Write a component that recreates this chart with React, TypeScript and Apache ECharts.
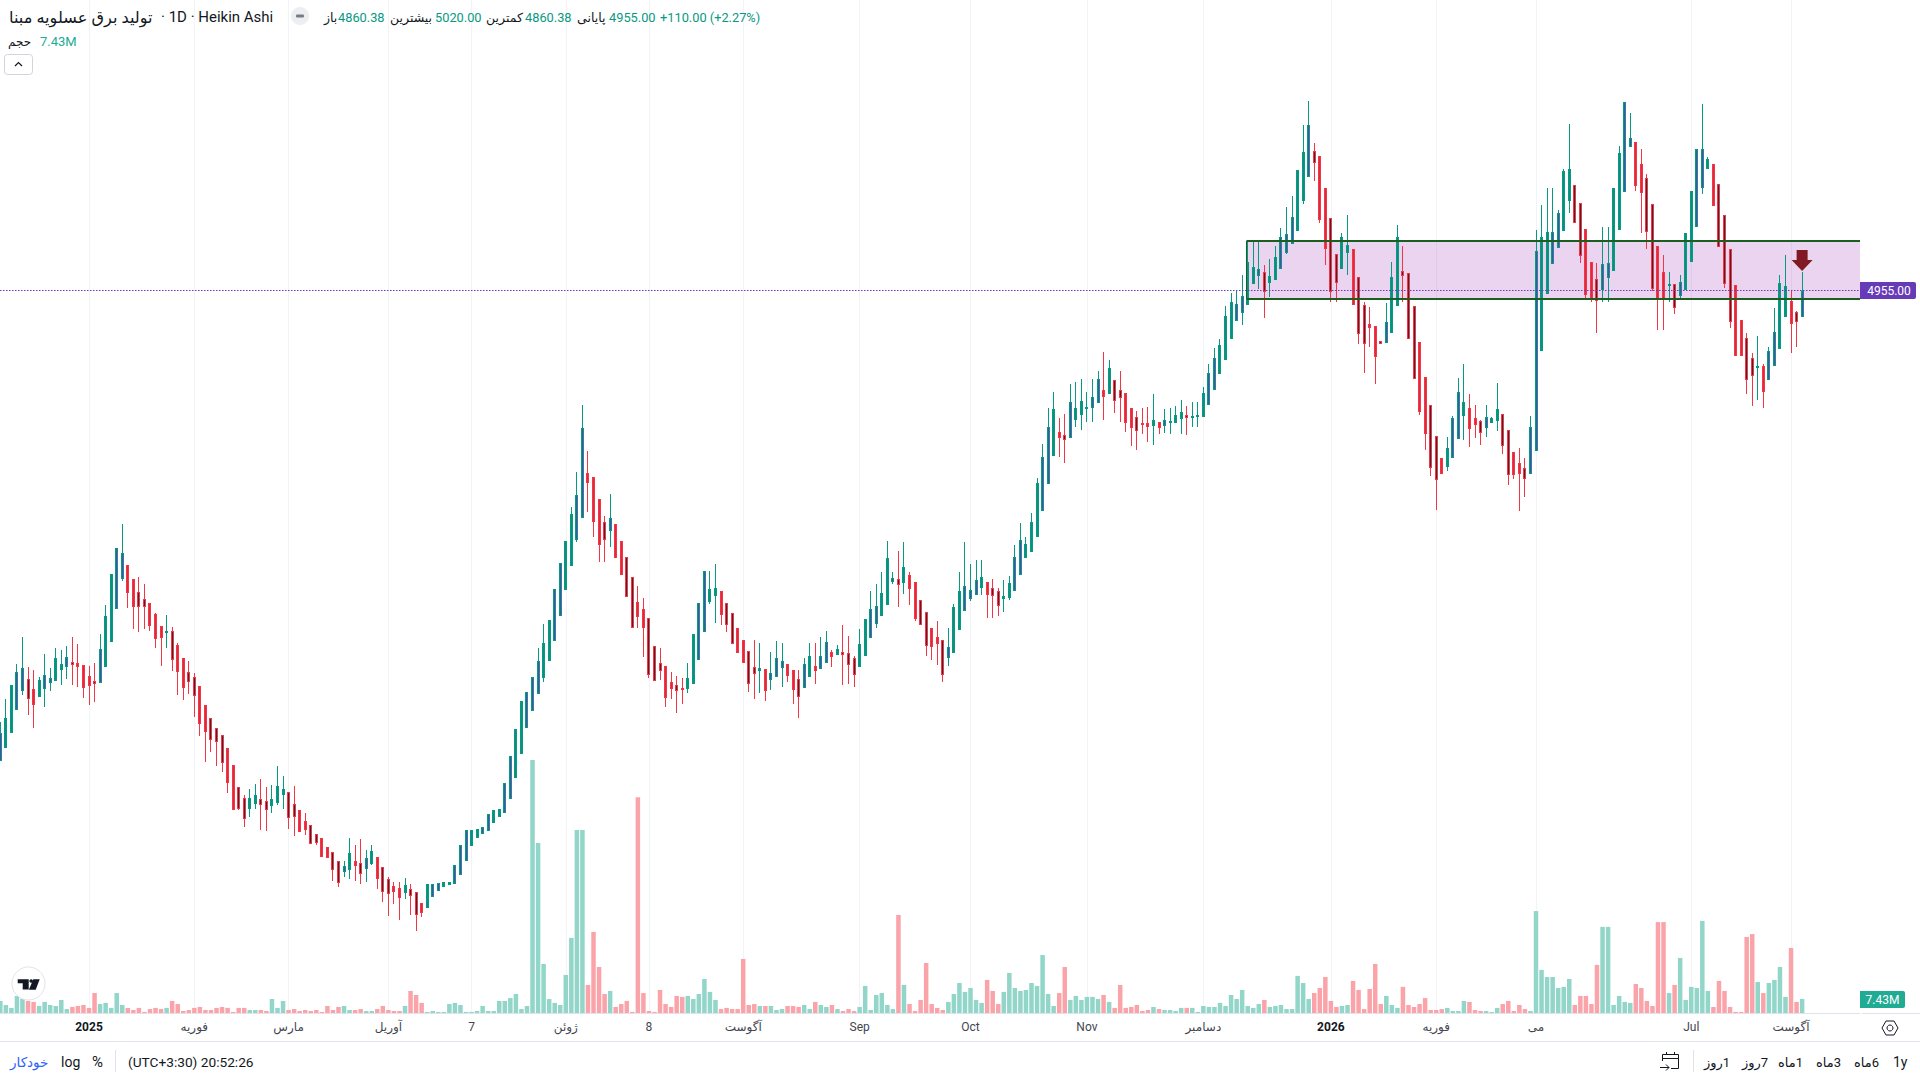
import React, { useEffect, useRef } from "react";
import * as echarts from "echarts";

const opens = [
3262,3309,3363,3446,3514,3556,3520,3493,3522,3543,
3550,3590,3601,3618,3614,3607,3567,3549,3543,3601,
3691,3810,3918,3967,3916,3870,3844,3830,3790,3747,
3727,3729,3679,3632,3582,3564,3531,3463,3416,3380,
3355,3308,3247,3168,3128,3090,3108,3124,3117,3100,
3111,3139,3150,3106,3085,3045,3031,2998,2984,2952,
2934,2901,2862,2870,2901,2894,2874,2890,2916,2880,
2836,2811,2804,2786,2800,2790,2750,2732,2772,2793,
2808,2815,2818,2851,2901,2955,2984,2998,3010,3039,
3061,3075,3126,3201,3288,3380,3441,3502,3560,3621,
3693,3783,3877,3963,4057,4136,4298,4284,4204,4122,
4089,4114,4053,3996,3924,3834,3808,3776,3675,3614,
3603,3546,3535,3524,3520,3538,3625,3726,3834,3855,
3873,3830,3794,3740,3697,3657,3600,3585,3592,3553,
3564,3596,3610,3589,3556,3524,3564,3603,3592,3614,
3654,3643,3654,3650,3632,3600,3639,3704,3754,3783,
3823,3906,3916,3902,3931,3906,3841,3798,3740,3708,
3697,3632,3650,3733,3801,3844,3859,3884,3906,3884,
3873,3844,3848,3873,3931,3992,4014,4068,4161,4258,
4359,4446,4435,4424,4489,4507,4532,4532,4550,4597,
4582,4633,4597,4586,4532,4500,4478,4478,4467,4482,
4467,4478,4478,4492,4507,4500,4503,4501,4544,4598,
4656,4706,4782,4846,4875,4904,4980,5008,5022,4983,
4994,5034,5091,5124,5170,5278,5365,5457,5439,5324,
5216,5086,5034,5091,5104,5004,4903,4834,4827,4773,
4766,4802,4899,5025,5018,4899,4770,4644,4543,4431,
4352,4320,4352,4420,4503,4532,4496,4485,4460,4478,
4485,4510,4453,4374,4334,4316,4294,4377,4737,4942,
5050,5108,5169,5277,5335,5270,5176,5058,4996,4957,
5000,5025,5173,5310,5472,5490,5410,5360,5266,5115,
5022,4971,4978,4935,4957,5058,5184,5324,5392,5410,
5338,5227,5104,4975,4849,4784,4712,4680,4683,4633,
4683,4744,4860,4917,4878,4860.38,
];
const closes = [
3362,3416,3535,3582,3596,3486,3464,3553,3571,3560,
3632,3610,3636,3608,3601,3525,3532,3540,3664,3783,
3934,4028,4010,3867,3817,3817,3817,3748,3702,3705,
3729,3626,3583,3525,3547,3496,3396,3367,3338,3331,
3255,3182,3085,3088,3054,3128,3139,3104,3085,3124,
3171,3160,3057,3061,3007,3013,2964,2967,2917,2913,
2870,2823,2883,2930,2883,2856,2912,2937,2836,2790,
2782,2790,2769,2815,2775,2708,2714,2818,2818,2822,
2826,2826,2887,2959,3013,3013,3016,3022,3070,3085,
3088,3182,3279,3376,3477,3510,3564,3621,3686,3769,
3880,3974,4053,4150,4219,4460,4262,4122,4039,4057,
4136,3992,3931,3852,3740,3780,3740,3571,3549,3585,
3488,3520,3513,3517,3560,3718,3830,3945,3880,3884,
3787,3751,3682,3650,3614,3538,3574,3596,3513,3578,
3632,3621,3567,3517,3492,3610,3639,3585,3639,3690,
3636,3664,3643,3607,3571,3682,3772,3808,3819,3866,
3992,3920,3895,3960,3880,3772,3751,3675,3672,3682,
3571,3672,3816,3873,3891,3877,3913,3924,3859,3855,
3819,3855,3902,3996,4057,4042,4122,4262,4356,4464,
4528,4424,4417,4554,4532,4557,4536,4572,4636,4572,
4676,4557,4568,4478,4460,4449,4474,4464,4489,4460,
4489,4485,4507,4518,4496,4503,4507,4586,4658,4712,
4759,4863,4914,4906,4935,5058,5040,5032,4951,5007,
5076,5148,5158,5220,5389,5454,5551,5415,5210,5106,
4951,4983,5148,5119,4904,4798,4762,4820,4716,4762,
4842,5004,5148,5007,4780,4636,4518,4438,4316,4273,
4294,4388,4496,4590,4554,4456,4471,4442,4500,4496,
4528,4395,4291,4291,4294,4276,4464,5097,5148,5166,
5166,5234,5385,5392,5198,5079,4939,4928,4917,5050,
5054,5324,5450,5634,5504,5331,5306,5166,4960,4924,
4924,4978,4892,4986,5162,5313,5464,5464,5428,5259,
5112,4978,4842,4719,4719,4633,4647,4683,4590,4737,
4806,4982,4971,4834,4842,4955,
];
const lows = [
3262,3309,3363,3446,3499,3427,3380,3493,3456,3513,
3550,3535,3556,3535,3528,3488,3463,3474,3543,3601,
3691,3810,3910,3812,3736,3726,3736,3729,3668,3603,
3668,3585,3499,3481,3502,3420,3351,3258,3294,3243,
3222,3146,3085,3085,3024,3060,3088,3013,3009,3074,
3103,3088,3016,2991,3006,2995,2964,2959,2917,2913,
2829,2808,2844,2836,2829,2818,2826,2887,2800,2754,
2703,2746,2689,2764,2707,2649,2700,2732,2772,2793,
2808,2815,2818,2851,2901,2955,2984,2998,3010,3039,
3061,3075,3126,3201,3288,3380,3441,3502,3546,3621,
3693,3783,3877,3963,4050,4136,4158,4068,3978,3978,
4032,3992,3931,3852,3740,3740,3636,3560,3549,3553,
3456,3484,3434,3466,3506,3538,3625,3726,3826,3758,
3751,3726,3682,3650,3614,3510,3484,3506,3477,3517,
3564,3528,3546,3466,3416,3524,3564,3538,3592,3614,
3600,3643,3535,3538,3528,3600,3639,3704,3740,3783,
3823,3898,3816,3862,3823,3765,3751,3639,3625,3607,
3546,3603,3650,3733,3801,3837,3859,3859,3776,3776,
3783,3798,3841,3873,3931,3992,4014,4068,4161,4258,
4359,4356,4334,4424,4464,4453,4482,4482,4550,4489,
4582,4514,4482,4446,4395,4381,4438,4410,4399,4438,
4442,4438,4478,4438,4435,4464,4464,4501,4544,4598,
4656,4706,4782,4846,4831,4904,4980,4960,4856,4932,
4994,5034,5086,5124,5170,5266,5365,5349,5198,5047,
4914,4914,5034,5011,4904,4762,4658,4752,4618,4762,
4766,4802,4899,4914,4780,4636,4507,4381,4287,4165,
4294,4305,4352,4420,4417,4392,4424,4399,4428,4478,
4449,4366,4255,4276,4161,4212,4294,4377,4737,4942,
5050,5108,5169,5234,5198,5054,4921,4914,4802,4914,
4914,5025,5173,5310,5472,5313,5162,5104,4953,4813,
4813,4914,4870,4921,4957,5058,5184,5302,5392,5259,
5112,4964,4820,4719,4719,4582,4539,4561,4532,4633,
4683,4744,4860,4730,4752,4860.38,
];
const highs = [
3402,3484,3535,3610,3708,3600,3589,3564,3646,3596,
3668,3661,3675,3708,3682,3607,3603,3614,3718,3823,
3934,4028,4114,3967,3916,3924,3898,3830,3794,3747,
3787,3744,3686,3632,3621,3578,3531,3463,3416,3380,
3355,3308,3247,3168,3139,3160,3178,3196,3168,3175,
3243,3207,3150,3171,3085,3074,3031,2998,2984,2952,
2934,2901,2901,2984,2959,2980,2941,2959,2916,2880,
2844,2826,2826,2840,2818,2790,2750,2818,2818,2822,
2826,2826,2887,2959,3013,3013,3016,3022,3070,3085,
3088,3182,3279,3376,3477,3510,3564,3668,3754,3769,
3880,3974,4053,4176,4302,4543,4377,4284,4204,4143,
4222,4114,4053,3996,3924,3891,3848,3776,3675,3668,
3603,3582,3567,3560,3614,3718,3830,3945,3945,3970,
3873,3830,3794,3740,3697,3657,3697,3686,3592,3654,
3693,3686,3610,3589,3589,3632,3686,3686,3708,3729,
3661,3679,3751,3711,3639,3736,3772,3873,3898,3942,
4053,3942,4017,4050,3942,3906,3841,3798,3740,3765,
3697,3740,3826,3942,4050,3970,3985,3985,3906,3916,
3884,3913,3927,4039,4118,4068,4154,4280,4402,4532,
4590,4496,4510,4618,4626,4636,4590,4636,4665,4734,
4705,4633,4665,4586,4532,4521,4532,4536,4582,4482,
4528,4532,4539,4561,4539,4554,4554,4608,4690,4748,
4780,4899,4946,4957,5011,5134,5133,5133,5047,5068,
5115,5180,5256,5295,5389,5551,5637,5486,5439,5324,
5216,5086,5162,5227,5104,5004,4914,4896,4827,4773,
4910,5058,5191,5115,5018,4899,4770,4644,4543,4431,
4352,4428,4503,4640,4690,4582,4543,4489,4543,4500,
4622,4510,4453,4374,4388,4352,4503,5173,5263,5324,
5324,5245,5392,5554,5335,5270,5176,5058,5054,5184,
5184,5324,5475,5634,5594,5490,5464,5374,5266,5115,
5083,5022,4978,5011,5162,5313,5464,5626,5436,5410,
5338,5227,5104,4975,4849,4802,4730,4791,4690,4752,
4892,5011,5083,4957,4881,5020,
];
const volumes = [
6.4,4.3,2.8,9,7.4,6.4,5.9,3.8,5.9,4.3,
3.8,6.9,2.2,3.3,3.8,4.3,2.8,10.5,4.8,5.4,
2.8,10.5,4.3,2.8,1.7,2.8,0.7,2.2,2.8,2.2,
2.8,6.4,4.8,1.2,1.7,2.8,3.3,1.7,1.7,2.8,
3.3,2.8,0.7,2.8,2.8,1.7,1.7,1.7,1.2,7.4,
2.8,6.4,1.7,2.2,1.2,1.7,1.2,1.7,0.7,3.8,
1.7,3.3,3.8,1.7,1.7,2.2,1.2,1.2,2.2,3.8,
1.7,1.2,1.2,3.8,11.6,9.5,5.4,0.7,1.2,0.7,
0.7,4.8,5.4,4.3,0.7,0.7,1.2,3.8,1.2,1.2,
6.4,6.4,7.9,10,2.2,3.8,131.3,88.3,25.6,7.4,
5.4,4.3,19.9,39.1,95,95,14.7,42.2,24,10,
11.6,3.3,4.8,6.4,0.7,112,10.5,1.2,0.7,12.1,
4.8,3.3,9,8.5,9,7.4,10,17.8,11.1,6.9,
2.2,2.8,2.2,2.2,28.2,4.3,4.8,3.8,3.8,3.8,
1.7,2.2,3.8,3.8,3.3,4.3,2.2,5.9,4.3,3.3,
4.3,2.2,1.2,2.2,1.2,3.3,14.2,1.7,9.5,10.5,
4.3,2.2,51,14.7,4.8,1.2,6.9,26.1,4.8,2.8,
1.7,5.9,10,15.7,11.1,13.1,6.9,5.4,17.3,11.6,
4.8,11.1,20.9,13.1,11.6,12.1,15.7,14.2,30.2,10,
3.8,10.5,24,6.9,9,6.9,8.5,8.5,7.4,9.5,
5.9,2.8,14.7,2.8,3.3,4.3,1.2,1.7,3.3,2.2,
1.7,1.7,1.2,2.8,2.8,2.8,0.7,3.8,3.3,3.3,
5.4,3.8,9.5,7.4,12.1,3.8,2.8,4.8,6.9,3.3,
3.8,4.3,2.2,2.2,19.4,15.7,7.4,10.5,13.1,18.8,
6.4,3.3,3.8,4.3,16.8,12.1,2.2,12.6,25.6,4.8,
9,4.3,2.8,13.7,4.3,3.3,4.8,7.9,1.7,1.7,
2.2,2.8,1.2,1.2,6.4,5.9,1.7,1.2,1.2,0.7,
2.8,4.8,6.4,1.2,4.3,2.2,1.2,53,22.5,18.8,
18.8,13.1,13.7,17.8,4.3,9,9,4.8,25.1,44.8,
44.8,4.3,9,5.9,5.4,15.2,13.1,6.4,3.8,47.3,
47.3,10.5,14.7,28.7,6.9,13.7,13.1,47.9,11.6,3.3,
16.8,11.6,3.3,0.7,0.7,39.6,41.1,16.2,10.5,15.7,
17.3,24,8.5,33.9,5.9,7.43,
];
const tickIndexes = [16, 35, 52, 70, 85, 102, 117, 134, 155, 175, 196, 217, 240, 259, 277, 305, 323];
const tickLabels = ["2025", "فوریه", "مارس", "آوریل", "7", "ژوئن", "8", "آگوست", "Sep", "Oct", "Nov", "دسامبر", "2026", "فوریه", "می", "Jul", "آگوست"];
const lastPrice = 4955;
const boxTop = 5134.4;
const boxBottom = 4924.4;
const boxStartIndex = 224.82;
const axisEndIndex = 335.44;
const axisStartIndex = -0.054;
const arrowPrice = 5063;

const UP = "#089981";
const DOWN = "#f23645";
const UP_CORE_EVEN = "#5b44b8";
const UP_CORE_ODD = "#0b8f85";
const DOWN_CORE_EVEN = "#45262f";
const DOWN_CORE_ODD = "#e02a3c";
const VOL_UP = "#92d5c9";
const VOL_DOWN = "#faa4a9";
const INK = "#131722";
const FONT = "Roboto, 'Liberation Sans', 'DejaVu Sans', sans-serif";
const PURPLE = "#673ab7";
const BOX_GREEN = "#1b5e20";

const text = (s: string, x: number, y: number, fill: string, size = 12.8, align = "left", weight = "normal") => ({
  type: "text", x, y, z: 60, silent: true,
  style: { text: s, fill, font: `${weight} ${size}px ${FONT}`, align, verticalAlign: "middle" },
});
const seg = (x1: number, y1: number, x2: number, y2: number, stroke: string, lineWidth = 1) => ({
  type: "line", z: 60, silent: true, shape: { x1, y1, x2, y2 }, style: { stroke, lineWidth },
});

const graphics = [
  // header
  text("تولید برق عسلویه مبنا", 9, 17, INK, 16.2),
  text("· 1D · Heikin Ashi", 161, 17, INK, 15),
  { type: "circle", z: 60, silent: true, shape: { cx: 300, cy: 16, r: 9 }, style: { fill: "#eceef2" } },
  { type: "rect", z: 61, silent: true, shape: { x: 296, y: 14.5, width: 8, height: 3, r: 1 }, style: { fill: "#787b86" } },
  text("باز", 324, 17, INK, 12.5), text("4860.38", 338, 17, UP),
  text("بیشترین", 390, 17, INK, 12.5), text("5020.00", 435, 17, UP),
  text("کمترین", 486, 17, INK, 12.5), text("4860.38", 525, 17, UP),
  text("پایانی", 577, 17, INK, 12.5), text("4955.00", 609, 17, UP),
  text("+110.00 (+2.27%)", 660, 17, UP),
  text("حجم", 8, 42, INK, 12), text("7.43M", 40, 41, "#22ab94", 13),
  { type: "rect", z: 60, silent: true, shape: { x: 4.5, y: 54.5, width: 28, height: 20, r: 3 }, style: { fill: "#fff", stroke: "#d1d4dc", lineWidth: 1 } },
  { type: "polyline", z: 61, silent: true, shape: { points: [[15, 66], [18.5, 62.5], [22, 66]] }, style: { fill: "none", stroke: INK, lineWidth: 1.2 } },
  // logo
  { type: "circle", z: 60, silent: true, shape: { cx: 28.5, cy: 983.5, r: 16.5 }, style: { fill: "#fff", stroke: "#e0e3eb", lineWidth: 1 } },
  { type: "polygon", z: 61, silent: true, shape: { points: [[17.7, 979.3], [28.7, 979.3], [28.7, 989.5], [22.7, 989.5], [22.7, 983.3], [17.7, 983.3]] }, style: { fill: INK } },
  { type: "circle", z: 61, silent: true, shape: { cx: 31.2, cy: 981, r: 1.8 }, style: { fill: INK } },
  { type: "polygon", z: 61, silent: true, shape: { points: [[33.3, 979.3], [39.7, 979.3], [35.7, 989.8], [28.9, 989.8]] }, style: { fill: INK } },
  // frame lines
  seg(0, 1013.5, 1860, 1013.5, "#e0e3eb"), seg(1862, 1013.5, 1920, 1013.5, "#e0e3eb"),
  seg(0, 1041.5, 1920, 1041.5, "#e0e3eb", 1),
  // value tags
  { type: "rect", z: 60, silent: true, shape: { x: 1860, y: 282, width: 56, height: 17, r: [0, 2, 2, 0] }, style: { fill: PURPLE } },
  text("4955.00", 1889, 290.5, "#ffffff", 12, "center"),
  { type: "rect", z: 60, silent: true, shape: { x: 1860, y: 991, width: 45, height: 17, r: [0, 2, 2, 0] }, style: { fill: "#22ab94" } },
  text("7.43M", 1882.5, 999.5, "#ffffff", 12, "center"),
  // settings
  { type: "polygon", z: 60, silent: true, shape: { points: [[1882, 1028], [1886, 1021], [1894, 1021], [1898, 1028], [1894, 1035], [1886, 1035]] }, style: { fill: "none", stroke: INK, lineWidth: 1 } },
  { type: "circle", z: 60, silent: true, shape: { cx: 1890, cy: 1028, r: 3 }, style: { fill: "none", stroke: INK, lineWidth: 1 } },
  // bottom toolbar
  text("خودکار", 10, 1062, "#2962ff", 13.5),
  text("log", 61, 1062, INK, 14),
  text("%", 92, 1062, INK, 15),
  seg(115.5, 1050, 115.5, 1072, "#e0e3eb"),
  text("(UTC+3:30) 20:52:26", 128, 1062, INK, 13.7),
  text("1y", 1893, 1062, INK, 14),
  text("\u200f6ماه", 1854, 1062, INK, 13),
  text("\u200f3ماه", 1816, 1062, INK, 13),
  text("\u200f1ماه", 1778, 1062, INK, 13),
  text("\u200f7روز", 1742, 1062, INK, 13),
  text("\u200f1روز", 1704, 1062, INK, 13),
  seg(1693.5, 1050, 1693.5, 1072, "#e0e3eb"),
  // calendar
  { type: "polyline", z: 60, silent: true, shape: { points: [[1662.5, 1061], [1662.5, 1054.5], [1678.5, 1054.5], [1678.5, 1068.5], [1671, 1068.5]] }, style: { fill: "none", stroke: INK, lineWidth: 1 } },
  seg(1662.5, 1058.5, 1678.5, 1058.5, INK),
  seg(1666.5, 1052, 1666.5, 1055, INK), seg(1674.5, 1052, 1674.5, 1055, INK),
  seg(1660, 1067.5, 1669, 1067.5, INK),
  { type: "polyline", z: 60, silent: true, shape: { points: [[1666, 1064.5], [1669, 1067.5], [1666, 1070.5]] }, style: { fill: "none", stroke: INK, lineWidth: 1 } },
];

// A Heikin Ashi candle on the pixel grid: 1px wick, 3px body, 1px core.
const renderCandle = (_: any, api: any) => {
  const i = api.value(0);
  const o = api.value(1);
  const c = api.value(2);
  const up = c >= o;
  const px = api.coord([i, o])[0];
  const X = Math.floor(px);
  const yTop = Math.round(api.coord([i, Math.max(o, c)])[1]);
  const yBot = Math.round(api.coord([i, Math.min(o, c)])[1]);
  const yLow = Math.round(api.coord([i, api.value(3)])[1]);
  const yHigh = Math.round(api.coord([i, api.value(4)])[1]);
  const bodyH = Math.max(yBot - yTop, 2);
  const edge = up ? UP : DOWN;
  const even = X % 2 === 0;
  const core = up ? (even ? UP_CORE_EVEN : UP_CORE_ODD) : even ? DOWN_CORE_EVEN : DOWN_CORE_ODD;
  const children: any[] = [
    { type: "rect", shape: { x: X, y: yHigh, width: 1, height: Math.max(yLow - yHigh, 1) }, style: { fill: edge } },
    { type: "rect", shape: { x: X - 1, y: yTop, width: 3, height: bodyH }, style: { fill: edge } },
  ];
  if (bodyH > 2) {
    children.push({ type: "rect", shape: { x: X, y: yTop + 1, width: 1, height: bodyH - 2 }, style: { fill: core } });
  }
  return { type: "group", children };
};

export default function App() {
  const ref = useRef<HTMLDivElement>(null);
  useEffect(() => {
    const chart = echarts.init(ref.current!, undefined, { renderer: "svg" });
    const candleData = opens.map((o, i) => [i, o, closes[i], lows[i], highs[i]]);
    const volumeData = volumes.map((v, i) => ({
      value: [i, v],
      itemStyle: { color: closes[i] >= opens[i] ? VOL_UP : VOL_DOWN },
    }));
    const boxLine = (y: number, width: number) => [
      { coord: [boxStartIndex, y], lineStyle: { color: BOX_GREEN, width, type: "solid" } },
      { coord: [axisEndIndex, y] },
    ];
    chart.setOption({
      animation: false,
      backgroundColor: "#ffffff",
      textStyle: { fontFamily: FONT },
      grid: [
        { left: 0, top: 0, width: 1860, height: 1013, containLabel: false },
        { left: 0, top: 743.3, width: 1860, height: 270, containLabel: false },
      ],
      xAxis: [
        {
          type: "value", gridIndex: 0, min: axisStartIndex, max: axisEndIndex,
          axisLine: { show: false },
          axisTick: { show: false, customValues: tickIndexes },
          splitLine: { show: true, lineStyle: { color: "#f2f3f6", width: 1 } },
          axisLabel: {
            show: true, margin: 8, color: "#434651", fontSize: 12, fontFamily: FONT,
            customValues: tickIndexes, hideOverlap: false,
            formatter: (v: number) => {
              const s = tickLabels[tickIndexes.indexOf(v)] ?? "";
              return /^20\d\d$/.test(s) ? `{year|${s}}` : s;
            },
            rich: { year: { fontWeight: "bold", color: INK, fontSize: 12, fontFamily: FONT } },
          },
        },
        { type: "value", gridIndex: 1, min: axisStartIndex, max: axisEndIndex, show: false, splitLine: { show: false } },
      ],
      yAxis: [
        { type: "value", gridIndex: 0, min: 2354, max: 6000.8, show: false, splitLine: { show: false } },
        { type: "value", gridIndex: 1, min: 0, max: 140, show: false, splitLine: { show: false } },
      ],
      series: [
        {
          name: "حجم", type: "bar", xAxisIndex: 1, yAxisIndex: 1, barWidth: 4.5, data: volumeData, z: 1,
        },
        {
          name: "تولید برق عسلویه مبنا", type: "custom", xAxisIndex: 0, yAxisIndex: 0, z: 3,
          renderItem: renderCandle,
          encode: { x: 0, y: [1, 2, 3, 4] },
          data: candleData,
          markArea: {
            silent: true,
            itemStyle: { color: "rgba(156,39,176,0.2)", borderWidth: 0 },
            data: [[{ coord: [boxStartIndex, boxTop] }, { coord: [axisEndIndex, boxBottom] }]],
          },
          markLine: {
            silent: true, symbol: "none", label: { show: false }, animation: false,
            lineStyle: { color: PURPLE, type: [1.5, 1.5], width: 1 },
            data: [
              { yAxis: lastPrice },
              boxLine(boxTop, 2), boxLine(boxBottom, 2),
              [
                { coord: [boxStartIndex, boxTop], lineStyle: { color: BOX_GREEN, width: 1, type: "solid" } },
                { coord: [boxStartIndex, boxBottom] },
              ],
            ],
          },
          markPoint: {
            silent: true, label: { show: false },
            symbol: "path://M5.5 0H16.5V10H21.5L11 21L0.5 10H5.5Z", symbolSize: [21, 21],
            itemStyle: { color: "#801922" },
            data: [{ coord: [325, arrowPrice] }],
          },
        },
      ],
      graphic: { elements: graphics },
    });
    return () => chart.dispose();
  }, []);
  return (
    <div
      ref={ref}
      style={{ position: "absolute", left: 0, top: 0, width: 1920, height: 1080, background: "#fff" }}
    />
  );
}
